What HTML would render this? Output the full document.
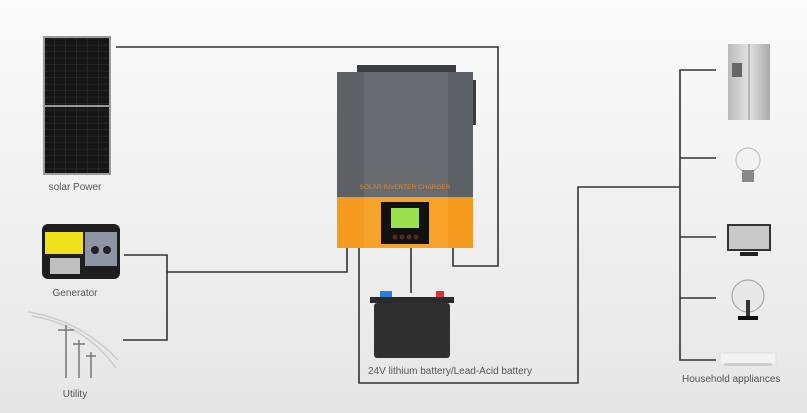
<!DOCTYPE html>
<html><head><meta charset="utf-8"><style>
html,body{margin:0;padding:0;width:807px;height:413px;overflow:hidden}
svg{display:block}
text{font-family:"Liberation Sans",sans-serif;fill:#555}
</style></head><body>
<svg width="807" height="413" viewBox="0 0 807 413" xmlns="http://www.w3.org/2000/svg">
<defs>
<linearGradient id="bg" x1="0" y1="0" x2="0" y2="1"><stop offset="0" stop-color="#fbfbfb"/><stop offset="1" stop-color="#e6e6e6"/></linearGradient>
<pattern id="cells" width="11" height="6.5" patternUnits="userSpaceOnUse"><rect width="11" height="6.5" fill="#2a2a2a"/><rect x="0" y="0" width="10.2" height="5.8" fill="#161616"/></pattern>
<linearGradient id="fr" x1="0" y1="0" x2="1" y2="0"><stop offset="0" stop-color="#b9b9b9"/><stop offset=".5" stop-color="#e2e2e2"/><stop offset="1" stop-color="#a9a9a9"/></linearGradient>
</defs>
<rect width="807" height="413" fill="url(#bg)"/>
<g fill="none" stroke="#333" stroke-width="1.6">
<polyline points="116,47 498,47 498,266 453,266 453,248"/>
<polyline points="124,255 167,255 167,340 123,340"/>
<polyline points="167,272 347,272 347,248"/>
<polyline points="359,248 359,383 578,383 578,187 680,187"/>
<line x1="411" y1="248" x2="411" y2="293"/>
<polyline points="716,70 680,70 680,360 716,360"/>
<line x1="680" y1="158" x2="716" y2="158"/>
<line x1="680" y1="237" x2="716" y2="237"/>
<line x1="680" y1="298" x2="716" y2="298"/>
</g>
<!-- solar panel -->
<rect x="43" y="36" width="68" height="139" fill="#9a9a9a"/>
<rect x="45" y="38" width="64" height="67" fill="url(#cells)"/>
<rect x="45" y="107" width="64" height="66" fill="url(#cells)"/>
<text x="75" y="190" font-size="10" text-anchor="middle">solar Power</text>
<!-- generator -->
<rect x="42" y="224" width="78" height="55" rx="6" fill="#1e1e1e"/>
<rect x="45" y="232" width="38" height="22" fill="#f0e21a"/>
<rect x="85" y="232" width="32" height="34" fill="#8c97a3"/>
<circle cx="95" cy="250" r="4" fill="#222"/><circle cx="107" cy="250" r="4" fill="#222"/>
<rect x="50" y="258" width="30" height="16" fill="#bfbfbf"/>
<text x="75" y="296" font-size="10" text-anchor="middle">Generator</text>
<!-- utility -->
<g stroke="#777" stroke-width="1.5" fill="none">
<path d="M28,312 Q80,320 118,360" stroke="#ccc"/>
<path d="M32,316 Q85,325 116,368" stroke="#ccc"/>
<line x1="66" y1="325" x2="66" y2="378"/><line x1="58" y1="330" x2="74" y2="330"/>
<line x1="79" y1="340" x2="79" y2="378"/><line x1="73" y1="344" x2="85" y2="344"/>
<line x1="91" y1="352" x2="91" y2="378"/><line x1="86" y1="356" x2="96" y2="356"/>
</g>
<text x="75" y="397" font-size="10" text-anchor="middle">Utility</text>
<!-- inverter -->
<rect x="357" y="65" width="99" height="9" fill="#3a3d42"/>
<rect x="337" y="72" width="136" height="127" fill="#5d6166"/>
<rect x="364" y="72" width="84" height="127" fill="#686c71"/>
<rect x="473" y="80" width="3" height="45" fill="#3a3d42"/>
<text x="405" y="189" font-size="6.5" text-anchor="middle" style="fill:#d98a33">SOLAR INVERTER CHARGER</text>
<rect x="337" y="197" width="136" height="51" fill="#f39a1f"/>
<rect x="364" y="197" width="84" height="51" fill="#f7a32a"/>
<rect x="381" y="202" width="48" height="42" fill="#111"/>
<rect x="391" y="208" width="28" height="20" fill="#9be04a"/>
<g fill="#5a2a20"><circle cx="395" cy="237" r="2.5"/><circle cx="402" cy="237" r="2.5"/><circle cx="409" cy="237" r="2.5"/><circle cx="416" cy="237" r="2.5"/></g>
<!-- battery -->
<rect x="380" y="291" width="12" height="6" fill="#2c7fd8"/>
<rect x="436" y="291" width="8" height="6" fill="#d33"/>
<rect x="370" y="297" width="84" height="6" fill="#2a2a2a"/>
<rect x="374" y="303" width="76" height="55" rx="3" fill="#303030"/>
<text x="368" y="374" font-size="10">24V lithium battery/Lead-Acid battery</text>
<!-- fridge -->
<rect x="728" y="44" width="42" height="76" fill="url(#fr)"/>
<line x1="749" y1="44" x2="749" y2="120" stroke="#888"/>
<rect x="732" y="63" width="10" height="14" fill="#666"/>
<!-- bulb -->
<circle cx="748" cy="160" r="12" fill="#f2f2f2" stroke="#bbb"/>
<rect x="742" y="170" width="12" height="12" fill="#888"/>
<!-- monitor -->
<rect x="728" y="225" width="42" height="25" fill="#c9c9c9" stroke="#333" stroke-width="2"/>
<rect x="740" y="252" width="18" height="4" fill="#222"/>
<!-- fan -->
<circle cx="748" cy="296" r="16" fill="#e8e8e8" stroke="#999"/>
<rect x="746" y="300" width="4" height="16" fill="#333"/>
<rect x="738" y="316" width="20" height="4" fill="#111"/>
<!-- AC -->
<rect x="720" y="353" width="56" height="12" rx="2" fill="#f3f3f3" stroke="#ddd"/>
<rect x="724" y="363" width="48" height="3" fill="#ccc"/>
<text x="682" y="382" font-size="10">Household appliances</text>
</svg>
</body></html>
